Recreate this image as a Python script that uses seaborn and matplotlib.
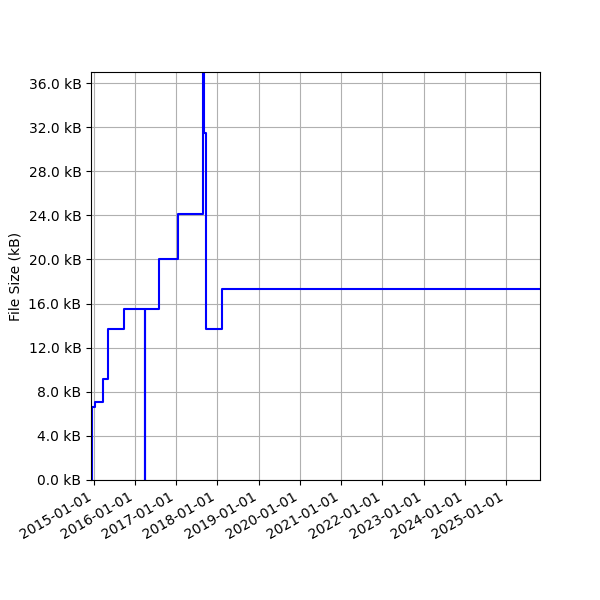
import pandas as pd
import seaborn as sns
import matplotlib
matplotlib.use("Agg")
import matplotlib.pyplot as plt
import matplotlib.dates as mdates
from matplotlib.ticker import FormatStrFormatter, MultipleLocator

# commit dates and file size after each commit (kB)
dates = [
    "2014-12-11", "2014-12-17", "2015-01-12", "2015-03-27", "2015-05-13",
    "2015-10-01", "2016-03-31", "2016-04-02", "2016-08-04", "2017-01-21",
    "2017-08-24", "2017-09-04", "2017-09-23", "2018-02-12", "2025-10-27",
]
sizes_kb = [
    0.0, 6.6, 7.05, 9.2, 13.65,
    15.47, 0.0, 15.47, 20.0, 24.15,
    60.0, 31.45, 13.65, 17.3, 17.3,
]


def main():
    df = pd.DataFrame({"date": pd.to_datetime(dates), "size": sizes_kb})

    fig, ax = plt.subplots(figsize=(6, 6), dpi=100)
    sns.lineplot(data=df, x="date", y="size", ax=ax, color="blue",
                 linewidth=1.5, drawstyle="steps-post", estimator=None)

    ax.set_xlim(df["date"].min(), df["date"].max())
    ax.set_ylim(0, 37)
    ax.yaxis.set_major_locator(MultipleLocator(4))
    ax.yaxis.set_major_formatter(FormatStrFormatter("%.1f kB"))
    ax.xaxis.set_major_locator(mdates.YearLocator())
    ax.xaxis.set_major_formatter(mdates.DateFormatter("%Y-%m-%d"))
    ax.set_xlabel("")
    ax.set_ylabel("File Size (kB)")
    ax.grid(True)
    fig.autofmt_xdate()
    fig.subplots_adjust(left=0.152, right=0.9, top=0.88, bottom=0.2)

    fig.savefig("out.png", dpi=100)


if __name__ == "__main__":
    main()
